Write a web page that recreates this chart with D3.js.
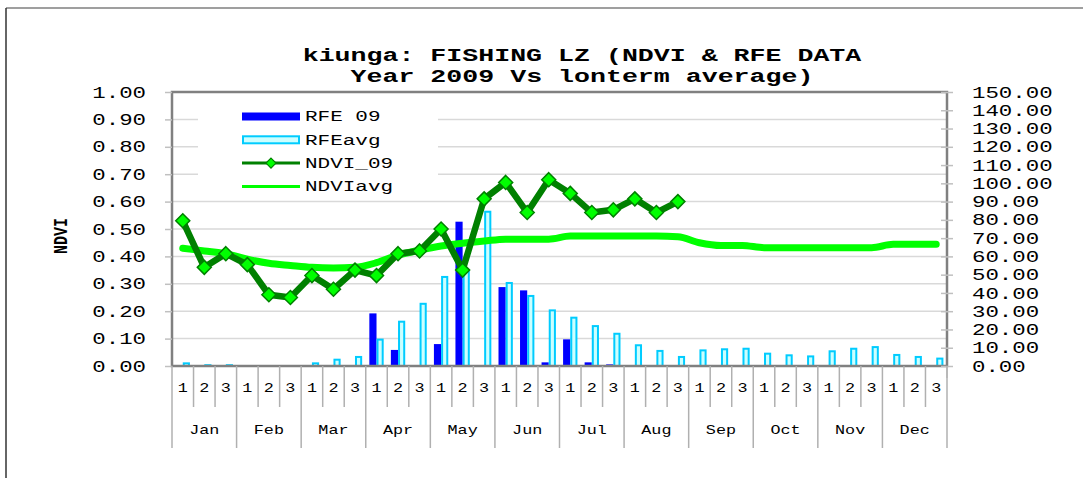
<!DOCTYPE html>
<html>
<head>
<meta charset="utf-8">
<script src="https://cdn.jsdelivr.net/npm/d3@7"></script>
<style>
body { margin: 0; background: #fff; }
text { font-family: "Liberation Mono", "Courier New", monospace; fill: #000; }
</style>
</head>
<body>
<script>
var months = ["Jan", "Feb", "Mar", "Apr", "May", "Jun", "Jul", "Aug", "Sep", "Oct", "Nov", "Dec"];
var dekads = ["1", "2", "3"];

// rainfall estimates (mm), one per dekad
var rfe09 = [0, 0, 0.5, 0, 0, 0, 0, 0, 0, 28.8, 8.8, 0, 12, 79, 0, 43.2, 41.4, 2,
             14.6, 2, 0.9, 0.5, 0.5, 0, 0, 0, 0, 0, 0, 0, 0, 0, 0, 0, 0, 0];
var rfeAvg = [2, 1, 1, 0, 0, 0, 2, 4, 5.5, 15, 24.8, 34.6, 49.3, 52, 85, 46, 38.9, 31,
              27, 22.4, 18.2, 11.9, 8.8, 5.5, 9.1, 9.7, 10, 7.3, 6.4, 5.8, 8.6, 10, 10.9, 6.6, 5.5, 4.6];

// NDVI, 2009 only up to Aug dekad 3
var ndvi09 = [0.53, 0.36, 0.41, 0.37, 0.26, 0.25, 0.33, 0.28, 0.35, 0.33, 0.41, 0.42,
              0.50, 0.35, 0.61, 0.67, 0.56, 0.68, 0.63, 0.56, 0.57, 0.61, 0.56, 0.60];
var ndviAvg = [0.43, 0.42, 0.41, 0.39, 0.375, 0.367, 0.36, 0.358, 0.36, 0.377, 0.405, 0.423,
               0.438, 0.448, 0.456, 0.463, 0.463, 0.463, 0.474, 0.474, 0.474, 0.474, 0.474, 0.472,
               0.45, 0.44, 0.44, 0.432, 0.432, 0.432, 0.432, 0.432, 0.432, 0.444, 0.444, 0.444];

var ndviTicks = [0, 0.1, 0.2, 0.3, 0.4, 0.5, 0.6, 0.7, 0.8, 0.9, 1.0];
var rfeTicks = [0, 10, 20, 30, 40, 50, 60, 70, 80, 90, 100, 110, 120, 130, 140, 150];

var titleLines = ["kiunga: FISHING LZ (NDVI & RFE DATA", "Year 2009 Vs lonterm average)"];
var legendItems = ["RFE 09", "RFEavg", "NDVI_09", "NDVIavg"];

var width = 1083, height = 478;
var plotL = 172, plotR = 947, plotT = 92, plotB = 366;
var sx = 1.4; // the source picture was stretched sideways

var keys = [];
months.forEach(function(m) {
  dekads.forEach(function(d) { keys.push(m + "-" + d); });
});

var x0 = d3.scaleBand().domain(keys).range([plotL, plotR]);
var x1 = d3.scaleBand().domain(["rfe09", "rfeAvg"]).range([0, x0.bandwidth()]).paddingOuter(0.5);
var yL = d3.scaleLinear().domain([0, 1]).range([plotB, plotT]);
var yR = d3.scaleLinear().domain([0, 150]).range([plotB, plotT]);

function cx(i) { return x0(keys[i]) + x0.bandwidth() / 2; }

// stretch text horizontally around its own x
function stretch(sel) {
  sel.each(function() {
    var t = d3.select(this), x = +t.attr("x") || 0;
    t.attr("x", x / sx).attr("transform", "scale(" + sx + ",1)");
  });
}

var svg = d3.select("body").append("svg")
    .attr("width", width)
    .attr("height", height);

// outer frame
svg.append("line").attr("x1", 6).attr("y1", 8).attr("x2", width).attr("y2", 8)
    .attr("stroke", "#7f7f7f").attr("stroke-width", 1.5);
svg.append("line").attr("x1", 6).attr("y1", 8).attr("x2", 6).attr("y2", height)
    .attr("stroke", "#333").attr("stroke-width", 1.5);

// title
svg.append("g").selectAll("text")
    .data(titleLines)
  .enter().append("text")
    .attr("x", 582)
    .attr("y", function(d, i) { return 61 + i * 21; })
    .attr("text-anchor", "middle")
    .attr("font-size", 19)
    .attr("font-weight", "bold")
    .text(function(d) { return d; })
    .call(stretch);

// gridlines
svg.append("g").selectAll("line")
    .data(ndviTicks.slice(1, -1))
  .enter().append("line")
    .attr("x1", plotL).attr("x2", plotR)
    .attr("y1", function(d) { return yL(d); })
    .attr("y2", function(d) { return yL(d); })
    .attr("stroke", "#d9d9d9")
    .attr("stroke-width", 1.5);

// legend background hides the gridlines behind it
svg.append("rect")
    .attr("x", 198).attr("y", plotT + 1)
    .attr("width", 240).attr("height", 103)
    .attr("fill", "#fff");

// bars
var bars = svg.append("g");
bars.selectAll(".rfe09")
    .data(rfe09)
  .enter().append("rect")
    .attr("class", "rfe09")
    .attr("x", function(d, i) { return x0(keys[i]) + x1("rfe09"); })
    .attr("y", function(d) { return yR(d); })
    .attr("width", x1.bandwidth())
    .attr("height", function(d) { return yR(0) - yR(d); })
    .attr("fill", "#0000ff");

bars.selectAll(".rfeavg")
    .data(rfeAvg)
  .enter().append("rect")
    .attr("class", "rfeavg")
    .attr("x", function(d, i) { return x0(keys[i]) + x1("rfeAvg") + 1; })
    .attr("y", function(d) { return yR(d) + 1; })
    .attr("width", x1.bandwidth() - 2)
    .attr("height", function(d) { return Math.max(0, yR(0) - yR(d) - 1); })
    .attr("fill", "#ccffff")
    .attr("stroke", "#00ccff")
    .attr("stroke-width", 2)
    .attr("display", function(d) { return d > 0 ? null : "none"; });

// lines
var avgLine = d3.line()
    .curve(d3.curveMonotoneX)
    .x(function(d, i) { return cx(i); })
    .y(function(d) { return yL(d); });

var ndviLine = d3.line()
    .x(function(d, i) { return cx(i); })
    .y(function(d) { return yL(d); });

svg.append("path")
    .attr("d", avgLine(ndviAvg))
    .attr("fill", "none")
    .attr("stroke", "#00ff00")
    .attr("stroke-width", 7)
    .attr("stroke-linecap", "round")
    .attr("stroke-linejoin", "round");

svg.append("path")
    .attr("d", ndviLine(ndvi09))
    .attr("fill", "none")
    .attr("stroke", "#008000")
    .attr("stroke-width", 6.5)
    .attr("stroke-linejoin", "round");

var diamond = "M0,-7L7,0L0,7L-7,0Z";

svg.append("g").selectAll("path")
    .data(ndvi09)
  .enter().append("path")
    .attr("d", diamond)
    .attr("transform", function(d, i) { return "translate(" + cx(i) + "," + yL(d) + ")"; })
    .attr("fill", "#00ff00")
    .attr("stroke", "#008000")
    .attr("stroke-width", 1.5);

// plot frame
svg.append("rect")
    .attr("x", plotL).attr("y", plotT)
    .attr("width", plotR - plotL).attr("height", plotB - plotT)
    .attr("fill", "none")
    .attr("stroke", "#808080")
    .attr("stroke-width", 2.5);

// left axis
var leftAxis = svg.append("g")
    .attr("transform", "translate(" + plotL + ",0)")
    .call(d3.axisLeft(yL).tickValues(ndviTicks).tickFormat(d3.format(".2f")).tickSize(7).tickPadding(19));
leftAxis.select(".domain").remove();
leftAxis.selectAll("line").attr("stroke", "#c0c0c0").attr("stroke-width", 1.5);
leftAxis.selectAll("text")
    .attr("font-size", 16)
    .attr("font-family", null)
    .call(stretch);

// right axis
var rightAxis = svg.append("g")
    .attr("transform", "translate(" + plotR + ",0)")
    .call(d3.axisRight(yR).tickValues(rfeTicks).tickFormat(d3.format(".2f")).tickSize(6).tickPadding(19));
rightAxis.select(".domain").remove();
rightAxis.selectAll("line").attr("x1", -6).attr("stroke", "#c0c0c0").attr("stroke-width", 1.5);
rightAxis.selectAll("text")
    .attr("font-size", 16)
    .attr("font-family", null)
    .call(stretch);

svg.append("line")
    .attr("x1", plotR).attr("x2", plotR)
    .attr("y1", plotB).attr("y2", plotB + 12)
    .attr("stroke", "#c0c0c0").attr("stroke-width", 1.5);

// y title
svg.append("text")
    .attr("transform", "translate(60,236) scale(" + sx + ",1) rotate(-90)")
    .attr("text-anchor", "middle")
    .attr("dy", "0.35em")
    .attr("font-size", 15)
    .attr("font-weight", "bold")
    .text("NDVI");

// category axis: dekads and months
var sep = svg.append("g");
sep.selectAll("line")
    .data(d3.range(keys.length + 1))
  .enter().append("line")
    .attr("x1", function(i) { return i < keys.length ? x0(keys[i]) : x0.range()[1]; })
    .attr("x2", function(i) { return i < keys.length ? x0(keys[i]) : x0.range()[1]; })
    .attr("y1", plotB)
    .attr("y2", function(i) { return i % 3 === 0 ? 448 : 407; })
    .attr("stroke", "#b0b0b0")
    .attr("stroke-width", 1.5);

svg.append("g").selectAll("text")
    .data(keys)
  .enter().append("text")
    .attr("x", function(d, i) { return cx(i); })
    .attr("y", 392)
    .attr("text-anchor", "middle")
    .attr("font-size", 12)
    .text(function(d) { return d.split("-")[1]; })
    .call(stretch);

svg.append("g").selectAll("text")
    .data(months)
  .enter().append("text")
    .attr("x", function(d) { return x0(d + "-1") + x0.bandwidth() * 1.5; })
    .attr("y", 434)
    .attr("text-anchor", "middle")
    .attr("font-size", 12)
    .text(function(d) { return d; })
    .call(stretch);

// legend
var legend = svg.append("g");
var ly = function(i) { return 116.5 + i * 23.3; };

legend.append("rect")
    .attr("x", 242).attr("y", ly(0) - 4)
    .attr("width", 58).attr("height", 8)
    .attr("fill", "#0000ff");
legend.append("rect")
    .attr("x", 243).attr("y", ly(1) - 3.5)
    .attr("width", 56).attr("height", 7)
    .attr("fill", "#ccffff")
    .attr("stroke", "#00ccff")
    .attr("stroke-width", 2);
legend.append("line")
    .attr("x1", 242).attr("x2", 300)
    .attr("y1", ly(2)).attr("y2", ly(2))
    .attr("stroke", "#008000").attr("stroke-width", 3);
legend.append("path")
    .attr("d", "M0,-5L5,0L0,5L-5,0Z")
    .attr("transform", "translate(271," + ly(2) + ")")
    .attr("fill", "#00ff00")
    .attr("stroke", "#008000")
    .attr("stroke-width", 1.2);
legend.append("line")
    .attr("x1", 242).attr("x2", 300)
    .attr("y1", ly(3)).attr("y2", ly(3))
    .attr("stroke", "#00ff00").attr("stroke-width", 3);

legend.selectAll("text")
    .data(legendItems)
  .enter().append("text")
    .attr("x", 305)
    .attr("y", function(d, i) { return ly(i) + 5; })
    .attr("font-size", 15)
    .text(function(d) { return d; })
    .call(stretch);
</script>
</body>
</html>
